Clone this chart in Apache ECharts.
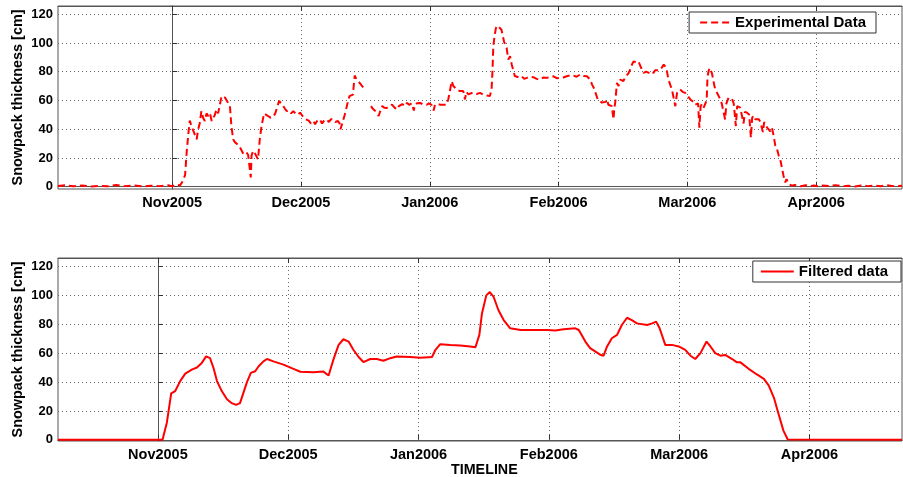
<!DOCTYPE html>
<html>
<head>
<meta charset="utf-8">
<script src="https://cdn.jsdelivr.net/npm/echarts@6/dist/echarts.min.js"></script>
<style>
html,body{margin:0;padding:0;background:#fff;}
#chart{width:903px;height:477px;}
</style>
</head>
<body>
<div id="chart"></div>
<script>
// x values are days after the "Nov2005" tick; ticks are evenly spaced (30 days)
const tickDays = [0, 30, 60, 90, 120, 150];
const tickLabels = ['Nov2005', 'Dec2005', 'Jan2006', 'Feb2006', 'Mar2006', 'Apr2006'];
const yTicks = [0, 20, 40, 60, 80, 100, 120];

// Experimental (raw) snowpack thickness [cm]
const expDays = [
-26.6,-25,-23,-21,-19,-17,-15,-13,-11,-9,-7,-5,-3,-1,0,1,1.8,2.3,2.6,3.0,3.4,3.8,4.1,4.5,4.9,5.3,5.7,6.07,6.4,6.8,7.2,7.6,8.0,8.4,8.8,9.2,9.6,9.95,10.3,10.7,11.1,11.5,11.9,12.3,12.7,13.1,13.45,13.8,14.2,14.6,15.0,15.4,15.8,16.2,16.6,17.0,17.3,17.7,18.1,18.3,18.5,18.9,19.3,19.7,20.0,20.4,20.8,21.4,21.9,22.4,22.9,23.5,24.0,24.3,24.9,25.4,25.9,26.3,26.7,27.2,27.7,28.2,28.7,29.2,29.8,
30.4,31.0,31.3,31.8,32.3,32.9,33.3,33.8,34.4,34.9,35.4,36.0,36.5,37.0,37.5,38.0,38.6,39.0,39.2,39.5,39.8,40.2,40.6,41.0,41.3,41.7,42.1,42.5,42.9,43.3,43.7,44.1,44.5,44.8,45.5,46.3,46.8,47.3,47.7,48.1,48.5,48.9,49.4,50.0,50.6,51.2,51.8,52.4,52.8,53.1,53.6,54.2,54.7,55.2,55.8,56.3,56.5,57.0,57.8,58.5,59.3,59.8,60.4,60.9,61.2,61.8,62.5,63.2,63.9,64.3,64.6,65.1,65.5,65.9,66.5,67.1,67.8,68.2,68.5,69.0,69.6,70.2,70.9,71.7,72.5,73.3,74.0,74.4,74.6,74.8,75.1,75.4,75.8,76.2,76.7,77.0,77.3,77.9,78.3,78.7,79.1,79.5,79.8,80.2,80.8,81.4,82.0,82.6,83.3,84.1,84.9,85.7,86.5,87.3,88.0,88.8,89.6,90.4,91.1,91.9,92.7,93.5,94.2,95.0,95.8,96.6,97.0,97.4,97.8,98.2,98.5,99.0,99.3,99.7,
100.1,100.5,101.0,101.3,101.6,102.0,102.4,102.8,103.0,103.2,103.6,104.0,104.4,104.8,105.1,105.5,105.9,106.3,106.7,107.1,107.5,108.0,108.6,109.0,109.4,109.8,110.4,111.0,111.5,112.1,112.5,112.9,113.3,113.7,114.1,114.5,115.1,115.6,116.0,116.4,116.8,117.2,117.6,118.0,118.3,118.9,119.5,120.1,120.7,121.1,121.4,121.8,122.2,122.5,122.8,123.1,123.4,123.8,124.2,124.5,124.7,125.0,125.2,125.7,126.0,126.3,126.6,126.9,127.3,127.7,128.0,128.4,128.8,129.1,129.6,130.0,130.4,130.8,131.3,131.6,131.9,132.3,132.7,133.1,133.4,133.9,134.4,134.8,135.1,135.4,135.8,136.2,136.6,137.0,137.6,137.9,138.2,138.6,139.0,139.3,139.7,140.1,140.5,140.9,141.3,141.7,142.1,142.4,142.8,143.1,143.6,144.0,144.4,145.0,145.5,146.5,147.5,148.5,149.5,150.5,151.5,153,154.5,156,157.5,159,160.5,162,163.5,165,166.5,168,170
];
const expVals = [
0.5,1,0.3,0.8,0.2,0.6,0.3,1.2,0.4,0.9,0.2,0.7,0.4,1.0,0.3,1.5,0.8,3,2.5,8,25,38,46,42,41,36,33,40,44,52.6,48,45.7,51,49,51,45.7,47,50,53.7,51,52,63,62,62,60,59.6,56,42,33,31,30.7,29,27.3,25,22.7,24,23.9,22,21.6,6.5,22,25,23,22.7,19,33,42,51,50,49,48,48.5,51,52,59.6,58,56,54,52.6,53,51,52.6,51,50,51.5,
49,47,48,46,44,45.7,43.5,46,46.8,44,46,46.8,45,47,46.8,45,45.7,44,39.9,43,43.5,50,55,60,63,62,64,77.3,75,73.4,72,71.1,69,67.6,'-',56,54,52.6,51,49.2,53,56,55,54.8,56,57.1,55,53.7,56,57,57.5,56,58.3,57,58,53,57,58,58.3,57,57,58,57,53,57,57.5,57,57,57,60.7,65,73.4,70,68.8,67,66.5,66.5,60.7,66,64.2,65,65.3,64.5,65.3,64,63.5,63,68,80,97.6,105,110.3,112,112.6,109.2,105,101,96.5,88.4,90.7,84.9,80.4,77,75.7,76,76.8,75,75.7,76.5,76.2,75,74.6,76,75.7,76.5,76.8,75.5,75.7,76,76.8,77.5,77.3,76.5,78,77,76.8,76,74.5,71,68.8,66.4,61.8,60,60.7,
58.5,58.5,59,60.7,57,57.5,56,46.8,55,58.5,72.2,70,74.5,75,73.5,76,76.8,79,81.5,85,87.2,86.5,87.2,86,81.5,79.2,80,79.2,80.5,79.2,81,80.5,81,81.5,83,84.9,82.6,74.5,71,67.6,61.9,56,65.3,66,67.6,66,65.3,63,60.7,61,59,57,56,58,41.1,56,57.5,55,54,60,76.8,81,82.6,79.2,75,70,67,65.3,63,60.7,58,57,46.8,58,61.9,62,61,58,42.2,56,55,55,53.8,44,52,51.5,50,34.2,48,49.5,47,46.5,47,45.2,38,45,43,41.1,40,38.5,41.1,35.4,28.4,26,21.5,18,12.2,7.6,3,5.3,1.8,1.2,0.7,1.3,0.8,0.3,1.0,0.4,0.9,0.3,0.8,0.4,1.1,0.3,0.7,0.2,0.9,0.4,0.8,0.3,1.0,0.4,0.6
];

// Filtered snowpack thickness [cm]
const filtDays = [
-23,1.06,2.07,3.06,3.98,5.13,6.3,7.8,8.98,10.1,11.1,12.0,12.8,13.6,14.7,15.9,17.0,18.0,18.9,19.7,20.5,21.4,22.4,23.2,24.3,25.1,26.6,28.9,31.2,32.8,35.8,38.1,39.3,40.4,41.6,42.7,43.9,45.0,46.2,47.3,48.9,50.4,51.9,53.5,55.0,58.1,60.4,63.1,63.9,65.0,67.3,69.6,71.9,73.1,74.0,74.6,75.6,76.4,77.3,78.4,79.6,81.1,83.5,86.5,89.6,91.5,93.4,96.1,96.9,98.4,99.5,101.8,102.6,103.4,104.5,105.7,106.8,108.0,109.1,110.3,112.6,113.8,114.7,115.5,116.8,118.3,119.9,121.4,122.6,123.7,124.9,126.3,127.2,128.3,129.5,130.6,132.2,133.3,134.1,136.0,137.9,139.5,140.6,141.8,142.9,144.0,145.0,145.3,171.3
];
const filtVals = [
0,0,12.1,32.2,33.8,40.7,45.9,48.7,50.1,53.3,57.8,56.6,49.8,40.7,33.8,28.1,25.4,24.2,25.4,32.7,40,46.4,47.5,51,54.4,56,54.4,52.1,49.2,47.2,46.8,47.3,44.6,55.6,65.8,69.7,68.1,62.4,57.4,53.9,56,56,54.8,56.6,57.8,57.4,56.9,57.4,62.4,66.3,65.8,65.4,64.7,64.2,72.7,87.6,100.1,102.4,99,89.8,83,77.3,76.1,76.1,76.1,75.7,76.6,77.3,76.1,68.1,63.6,59,58.3,64.7,70.4,72.7,79.6,84.6,83,80.7,79.6,80.7,81.9,77.3,65.8,65.8,64.7,62.4,58.3,56,60.1,68.1,64.7,60.1,58.3,58.8,56,53.7,53.7,49.2,45.3,42.3,37.7,29.3,17.8,6.4,0.2,0,0
];

const FONT = 'Liberation Sans, Arial, sans-serif';
const expData = expDays.map((d, i) => [d, expVals[i]]);
const filtData = filtDays.map((d, i) => [d, filtVals[i]]);

const grids = [
  {left: 58, right: 1, top: 6, height: 183, xmin: -26.6, xmax: 170, ymin: -1.6, ymax: 125.7},
  {left: 58, right: 1, top: 258, height: 183, xmin: -23, xmax: 171.3, ymin: -0.8, ymax: 126}
];

function xAxisBottom(i) {
  const g = grids[i];
  return {
    type: 'value', gridIndex: i, min: g.xmin, max: g.xmax, position: 'bottom',
    axisLine: {show: true, lineStyle: {color: '#555', width: 1}},
    axisTick: {show: true, inside: true, length: 5, customValues: tickDays, lineStyle: {color: '#333'}},
    axisLabel: {show: true, customValues: tickDays, margin: 6, color: '#000', fontFamily: FONT, fontWeight: 'bold', fontSize: 14.5,
      formatter: v => { const k = tickDays.indexOf(Math.round(v)); return k >= 0 ? tickLabels[k] : ''; }},
    splitLine: {show: true, lineStyle: {color: '#666', width: 1, type: [1, 3]}}
  };
}
function xAxisTop(i) {
  const g = grids[i];
  return {
    type: 'value', gridIndex: i, min: g.xmin, max: g.xmax, position: 'top',
    axisLine: {show: true, lineStyle: {color: '#555', width: 1}},
    axisTick: {show: true, inside: true, length: 5, customValues: tickDays, lineStyle: {color: '#333'}},
    axisLabel: {show: false}, splitLine: {show: false}
  };
}
function yAxis(i) {
  const g = grids[i];
  return {
    type: 'value', gridIndex: i, min: g.ymin, max: g.ymax,
    name: 'Snowpack thickness [cm]', nameLocation: 'middle', nameGap: 33, nameMoveOverlap: false,
    nameTextStyle: {color: '#000', fontFamily: FONT, fontWeight: 'bold', fontSize: 14.4},
    axisLine: {show: true, lineStyle: {color: '#555', width: 1}},
    axisTick: {show: true, inside: true, length: 5, customValues: yTicks, lineStyle: {color: '#333'}},
    axisLabel: {show: true, customValues: yTicks, margin: 5, color: '#000', fontFamily: FONT, fontWeight: 'bold', fontSize: 13},
    splitLine: {show: true, lineStyle: {color: '#666', width: 1, type: [1, 3]}}
  };
}

const legendText = {color: '#000', fontFamily: FONT, fontWeight: 'bold', fontSize: 15};
const chart = echarts.init(document.getElementById('chart'), null, {renderer: 'canvas'});
chart.setOption({
  animation: false,
  backgroundColor: '#fff',
  grid: grids.map(g => ({left: g.left, right: g.right, top: g.top, height: g.height, show: true, borderColor: '#555', borderWidth: 1, backgroundColor: 'transparent'})),
  xAxis: [xAxisBottom(0), xAxisTop(0), xAxisBottom(1), xAxisTop(1)],
  yAxis: [yAxis(0), yAxis(1)],
  legend: [
    {data: ['Experimental Data'], right: 27, top: 12, orient: 'horizontal',
     padding: [3, 10, 3, 10], itemWidth: 30, itemHeight: 14, itemGap: 5,
     itemStyle: {opacity: 0, borderWidth: 0},
     borderColor: '#333', borderWidth: 1, backgroundColor: '#fff', textStyle: legendText},
    {data: ['Filtered data'], right: 2, top: 261, orient: 'horizontal',
     padding: [3, 13, 3, 7], itemWidth: 33, itemHeight: 14, itemGap: 5,
     itemStyle: {opacity: 0, borderWidth: 0},
     borderColor: '#333', borderWidth: 1, backgroundColor: '#fff', textStyle: legendText}
  ],
  graphic: [
    {type: 'text', left: 451, top: 463, style: {text: 'TIMELINE', fill: '#000', font: 'bold 14.3px ' + FONT}}
  ],
  series: [
    {name: 'Experimental Data', type: 'line', xAxisIndex: 0, yAxisIndex: 0, data: expData,
     showSymbol: false, symbol: 'none', connectNulls: false,
     lineStyle: {color: '#ff0000', width: 2, type: [7, 4]}, itemStyle: {color: '#ff0000'}},
    {name: 'Filtered data', type: 'line', xAxisIndex: 2, yAxisIndex: 1, data: filtData,
     showSymbol: false, symbol: 'none',
     lineStyle: {color: '#ff0000', width: 2}, itemStyle: {color: '#ff0000'}}
  ]
});
</script>
</body>
</html>
